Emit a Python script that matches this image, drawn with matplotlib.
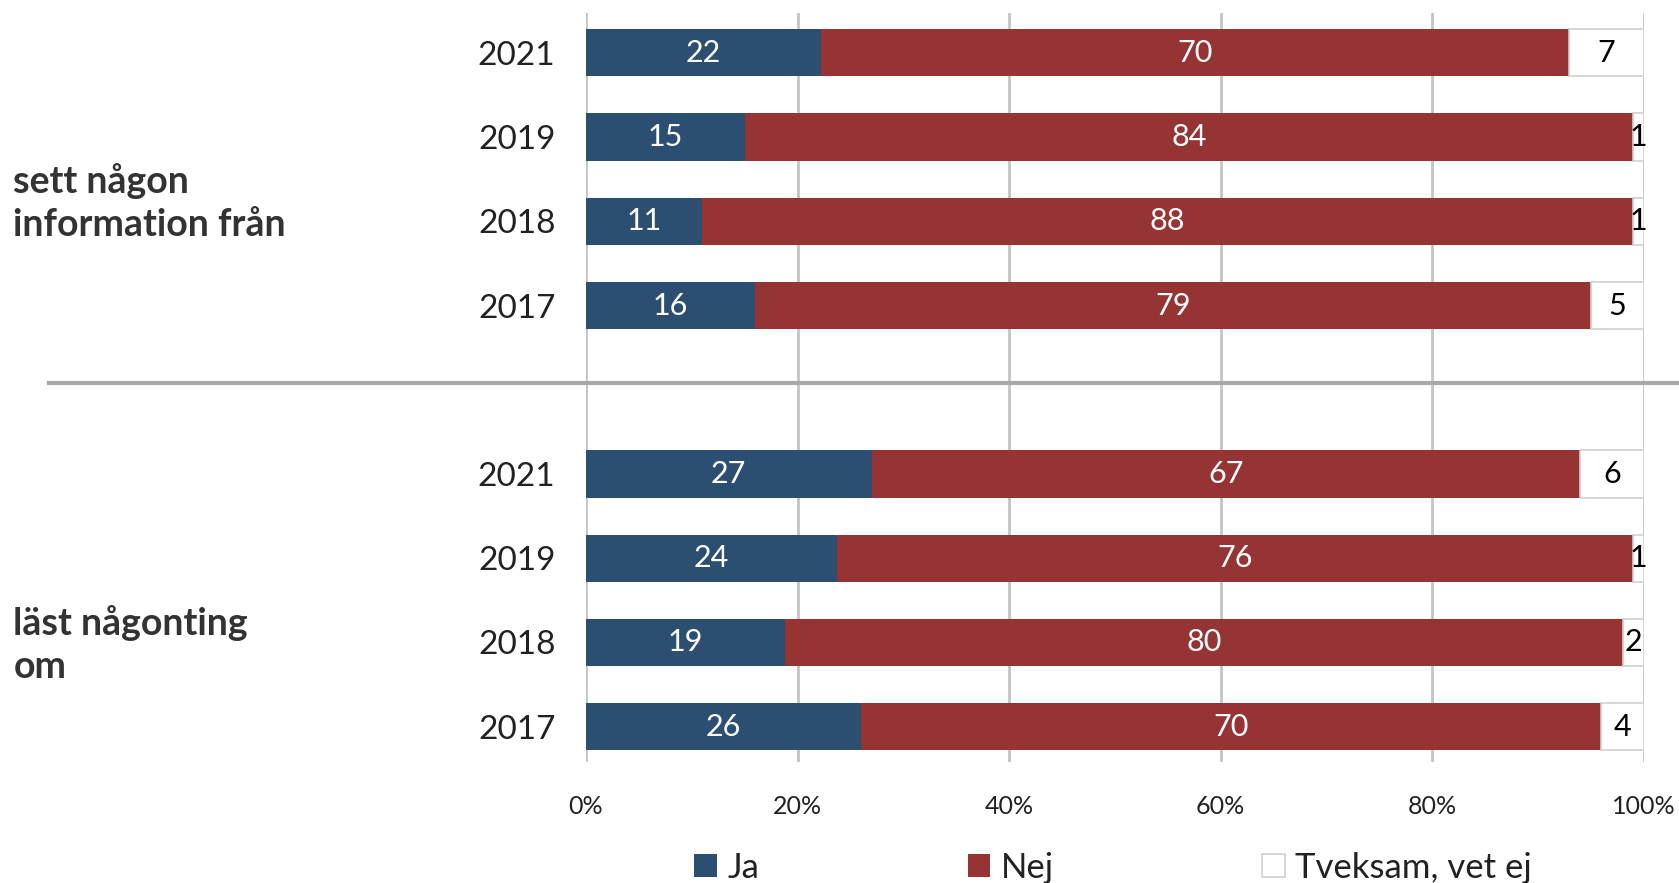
import numpy as np
import matplotlib
matplotlib.use('Agg')
import matplotlib.pyplot as plt
from matplotlib.lines import Line2D
import matplotlib.transforms as mtransforms

plt.rcParams['font.family'] = ['Lato', 'DejaVu Sans']

# data, top group then bottom group (rows read top to bottom)
groups = ['sett någon\ninformation från', 'läst någonting\nom']
years = ['2021', '2019', '2018', '2017']
ja = [22, 15, 11, 16, 27, 24, 19, 26]
nej = [70, 84, 88, 79, 67, 76, 80, 70]
tveksam = [7, 1, 1, 5, 6, 1, 2, 4]
series_names = ['Ja', 'Nej', 'Tveksam, vet ej']
colors = ['#2c4f71', '#963434', '#ffffff']
text_colors = ['white', 'white', 'black']

vals = np.array([ja, nej, tveksam], dtype=float)
pct = vals / vals.sum(axis=0) * 100

ypos = np.array([0, 1, 2, 3, 5, 6, 7, 8])
ylabels = years + years

fig = plt.figure(figsize=(16.79, 8.83), dpi=100)
ax = fig.add_axes([0.349, 0.137, 0.630, 0.848])

left = np.zeros(len(ypos))
for i in range(3):
    ec = '#d0d0d0' if i == 2 else 'none'
    ax.barh(ypos, pct[i], left=left, height=0.56, color=colors[i],
            edgecolor=ec, linewidth=1.2, label=series_names[i], zorder=3)
    for j in range(len(ypos)):
        ax.text(left[j] + pct[i][j] / 2, ypos[j], '%d' % vals[i][j],
                ha='center', va='center', color=text_colors[i],
                fontsize=22, zorder=4)
    left += pct[i]

ax.set_xlim(0, 100)
ax.set_ylim(8.42, -0.47)
ax.set_yticks(ypos)
ax.set_yticklabels(ylabels, fontsize=24, color='#222222')
ax.set_xticks([0, 20, 40, 60, 80, 100])
ax.set_xticklabels(['0%', '20%', '40%', '60%', '80%', '100%'], fontsize=18, color='#222222')
ax.tick_params(axis='y', length=0, pad=22)
ax.tick_params(axis='x', length=0, pad=24)
for s in ax.spines.values():
    s.set_visible(False)
ax.grid(axis='x', color='#c4c4c4', linewidth=2, zorder=0)
ax.set_axisbelow(True)

# group separator and labels
trans = mtransforms.blended_transform_factory(fig.transFigure, ax.transData)
fig.add_artist(Line2D([0.029, 1.0], [3.92, 3.92], transform=trans,
                      color='#a8a8a8', linewidth=3))
ax.text(0.008, 1.78, groups[0], transform=trans, fontsize=27, fontweight='bold',
        color='#333333', va='center', ha='left', linespacing=1.32)
ax.text(0.008, 7.03, groups[1], transform=trans, fontsize=27, fontweight='bold',
        color='#333333', va='center', ha='left', linespacing=1.32)

leg = fig.legend(loc='center', bbox_to_anchor=(0.663, 0.017), ncol=3, frameon=False,
                 fontsize=25, handlelength=0.65, handleheight=0.65, handletextpad=0.3,
                 columnspacing=6.0)
for t in leg.get_texts():
    t.set_color('#222222')

plt.savefig('out.png', dpi=100)
